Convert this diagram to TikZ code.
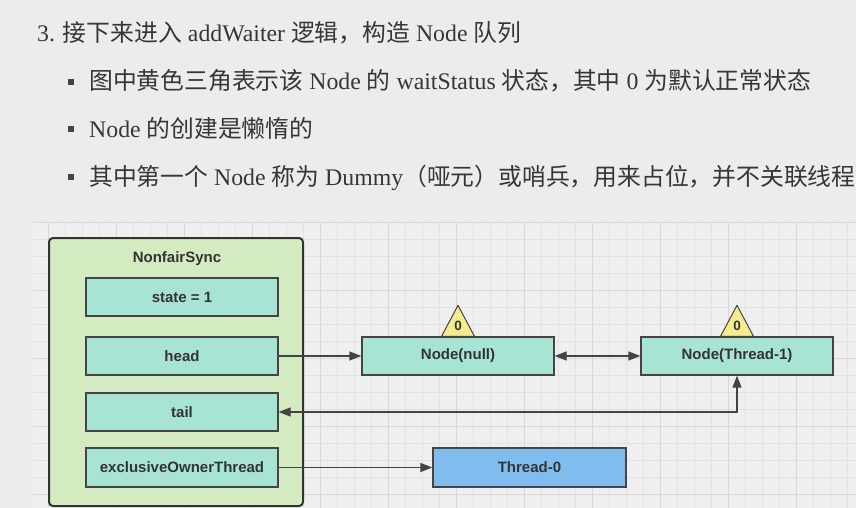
\documentclass[tikz,border=0pt]{standalone}
\usepackage{fontspec}
\usepackage{xcolor}
\setmainfont{Liberation Serif}
\newfontfamily\cjk{Noto Sans CJK SC}
\newfontfamily\dsans{Liberation Sans}
\newcommand{\zh}[1]{{\cjk #1}}
\usetikzlibrary{arrows.meta,positioning,calc}
\definecolor{cBg}{HTML}{ECECEC}
\definecolor{cGridBg}{HTML}{EFEFEF}
\definecolor{cGrid}{HTML}{E2E2E2}
\definecolor{cGridMaj}{HTML}{D8D8D8}
\definecolor{cSync}{HTML}{D4EAC0}
\definecolor{cField}{HTML}{A8E4D4}
\definecolor{cThread}{HTML}{80BDEE}
\definecolor{cTri}{HTML}{F5EC8F}
\definecolor{cInk}{HTML}{333333}
\definecolor{cLine}{HTML}{444444}
\definecolor{cText}{HTML}{363636}
\tikzset{
  >={Triangle[length=12pt,width=9pt]},
  txt/.style    ={anchor=base west,inner sep=0pt,text=cText,
                  font=\fontsize{23.8}{28}\selectfont},
  bul/.style    ={fill=cLine,minimum size=5.5pt,inner sep=0pt},
  sync/.style   ={rounded corners=4pt,draw=cInk,line width=2pt,fill=cSync},
  fld/.style    ={draw=cLine,line width=1.3pt,fill=cField,text=cInk,
                  minimum width=192pt,minimum height=38pt,inner sep=0pt,
                  font=\dsans\bfseries\fontsize{15}{18}\selectfont},
  qnode/.style  ={fld},
  thr/.style    ={fld,fill=cThread,minimum width=193pt,minimum height=39pt},
  tri/.style    ={draw=cLine,line width=1pt,fill=cTri,line join=round},
  wst/.style    ={text=cInk,inner sep=0pt,
                  font=\dsans\bfseries\fontsize{13.5}{16}\selectfont},
  ar/.style     ={->,line width=1.3pt,cLine},
}

\begin{document}
\begin{tikzpicture}[x=1pt,y=-1pt]
\useasboundingbox (0,0) rectangle (856,508);
\fill[cBg] (0,0) rectangle (856,508);
% grid
\begin{scope}
  \clip (33,222) rectangle (856,508);
  \fill[cGridBg] (33,222) rectangle (856,508);
  \foreach \x in {31,48,...,856} \draw[cGrid,line width=0.8pt] (\x,222) -- (\x,508);
  \foreach \y in {222,239,...,508} \draw[cGrid,line width=0.8pt] (33,\y) -- (856,\y);
  \foreach \x in {48,116,...,856} \draw[cGridMaj,line width=1pt] (\x,222) -- (\x,508);
  \foreach \y in {222,290,...,508} \draw[cGridMaj,line width=1pt] (33,\y) -- (856,\y);
\end{scope}

% text lines
\node[txt] (l1) at (37,42) {3. \zh{接下来进入} addWaiter \zh{逻辑，构造} Node \zh{队列}};
\node[bul] (b2) at (71,82) {};
\node[txt] (l2) at (89,90) {\zh{图中黄色三角表示该} Node \zh{的} waitStatus \zh{状态，其中} 0 \zh{为默认正常状态}};
\node[bul] (b3) at (71,129) {};
\node[txt] (l3) at (89,137) {Node \zh{的创建是懒惰的}};
\node[bul] (b4) at (71,177) {};
\node[txt] (l4) at (89,185) {\zh{其中第一个} Node \zh{称为} Dummy\zh{（哑元）或哨兵，用来占位，并不关联线程}};

% NonfairSync
\draw[sync] (49,238) rectangle (303,506);
\node[wst,font=\dsans\bfseries\fontsize{15}{18}\selectfont] (sync) at (177,259) {NonfairSync};
\node[fld] (state) at (182,297) {state = 1};
\node[fld] (head)  at (182,356) {head};
\node[fld] (tail)  at (182,412) {tail};
\node[fld,minimum height=39pt] (owner) at (182,467.5) {exclusiveOwnerThread};

% queue
\node[qnode] (nnull) at (458,356) {Node(null)};
\node[qnode] (nt1)   at (737,356) {Node(Thread-1)};
\node[thr]   (t0)    at (529.5,467.5) {Thread-0};

% waitStatus triangles
\foreach \n in {nnull,nt1} {
  \draw[tri] ($(\n.north)+(-16.5,0)$) -- ($(\n.north)+(0,-31)$)
     -- ($(\n.north)+(16.5,0)$) -- cycle;
  \node[wst] (ws-\n) at ($(\n.north)+(0,-11)$) {0};
}

% links
\draw[ar] (head.east) -- (nnull.west);
\draw[ar,<->] (nnull.east) -- (nt1.west);
\draw[ar,<->] (tail.east) -| (nt1.south);
\draw[ar] (owner.east) -- (t0.west);
\end{tikzpicture}
\end{document}
